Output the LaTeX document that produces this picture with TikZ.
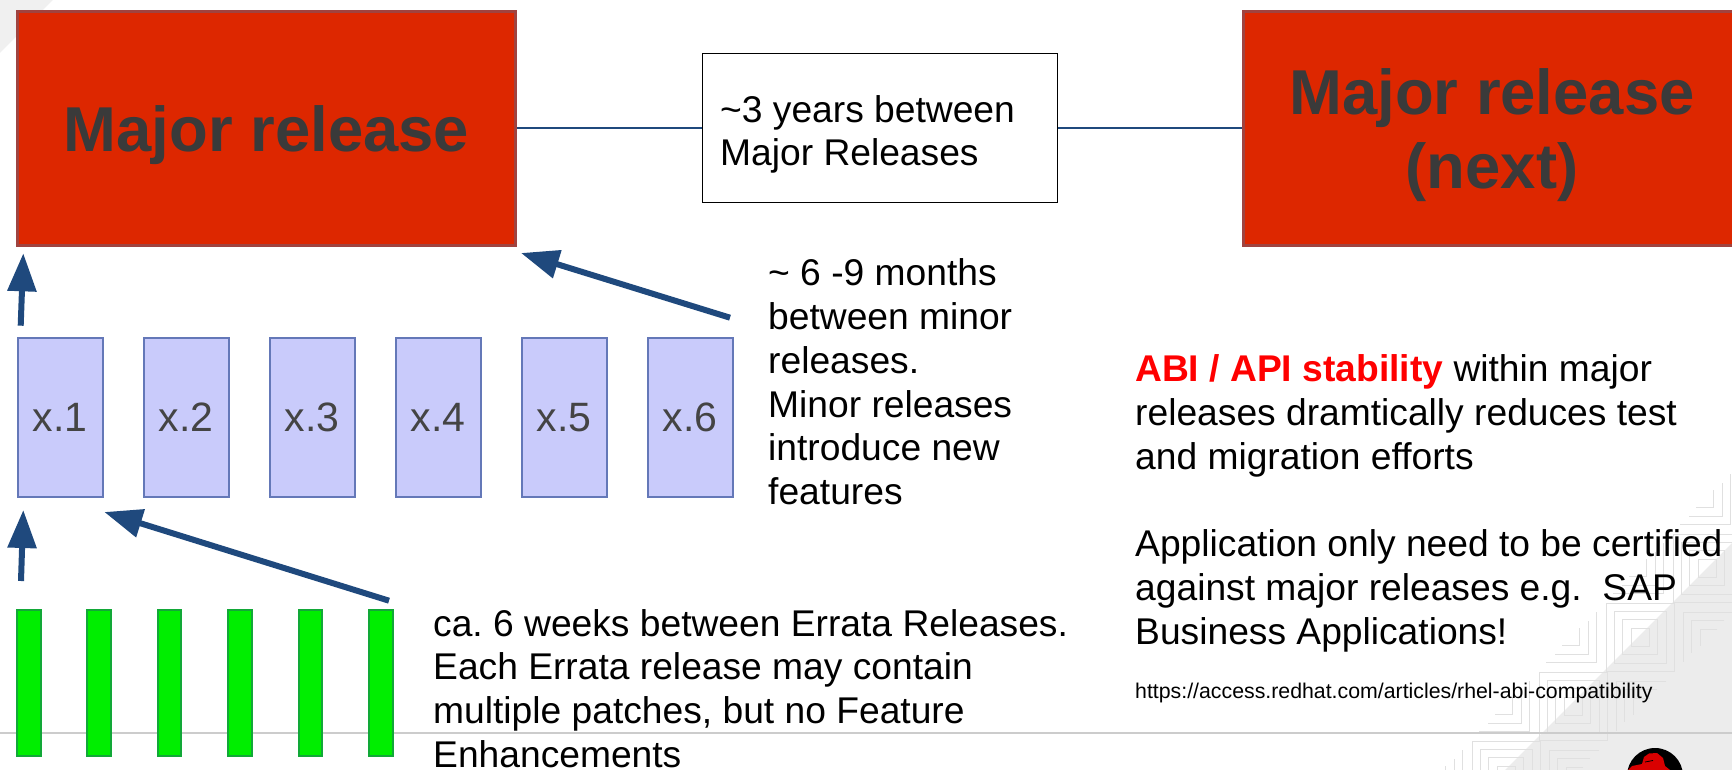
\documentclass[tikz,border=0pt]{standalone}
\usepackage{fontspec}
\setmainfont{Liberation Sans}
\usetikzlibrary{positioning, arrows.meta}

\definecolor{majorred}{HTML}{DD2700}
\definecolor{majorline}{HTML}{A0433F}
\definecolor{majortext}{HTML}{3A3A3A}
\definecolor{minorfill}{HTML}{C9CBFB}
\definecolor{minorline}{HTML}{6478B8}
\definecolor{minortext}{HTML}{444444}
\definecolor{erratafill}{HTML}{00EE00}
\definecolor{errataline}{HTML}{12A838}
\definecolor{linkblue}{HTML}{1F497D}
\definecolor{backgray}{HTML}{ECECEC}
\definecolor{patterngray}{HTML}{E0E0E0}

\tikzset{
  majorbox/.style={draw=majorline, line width=3pt, fill=majorred, text=majortext,
    minimum width=498pt, minimum height=234pt, align=center, text depth=0pt,
    font=\fontsize{63.4}{74}\selectfont\bfseries},
  minorbox/.style={draw=minorline, line width=2pt, fill=minorfill, text=minortext,
    minimum width=85pt, minimum height=159pt, font=\fontsize{41}{48}\selectfont},
  erratabar/.style={draw=errataline, line width=2pt, fill=erratafill,
    minimum width=23.5pt, minimum height=146pt, inner sep=0pt},
  notetext/.style={inner sep=0pt, anchor=north west, align=left,
    font=\fontsize{37.2}{43.8}\selectfont\frenchspacing},
  link/.style={draw=linkblue, line width=2pt},
  pusharrow/.style={draw=linkblue, line width=6pt, -{Triangle[length=38pt,width=28pt]}},
  patternline/.style={draw=patterngray, line width=1pt},
}

\begin{document}
\begin{tikzpicture}[x=1pt, y=-1pt, on grid]
            \useasboundingbox (0,0) rectangle (1732,770);
            \clip (0,0) rectangle (1732,770);

            % background
            \fill[backgray!80] (0,0) -- (53,0) -- (0,53) -- cycle;
            \fill[backgray] (1505,770) -- (1732,543) -- (1732,770) -- cycle;
            \foreach \k in {-2,...,2} {
              \begin{scope}[shift={(1640+67*\k,637-69*\k)}]
                \foreach \a/\b/\len in {61/8/17, 52/17/33, 44/25/50} {
                  \draw[patternline] (-\a-\len,\b) -- (-\a,\b) -- (-\a,\b-\len);
                  \draw[patternline] (\a-1+\len,-\b) -- (\a-1,-\b) -- (\a-1,-\b+\len);
                }
                \ifnum\k<2
                \foreach \r in {9,17.3,26,34} {
                  \draw[patternline] (-\r,-\r) rectangle (\r,\r);
                }
                \fi
              \end{scope}
            }
            \draw[line width=1.2pt, draw=black!20] (0,733) -- (1732,733);

            % logo
            \fill[black] (1655,776) circle (28);
            \fill[red!85!black] (1628,770) -- (1632,766) -- (1642,764) -- (1644,757)
              -- (1649,753.5) -- (1657,753) -- (1663,758) -- (1665,766) -- (1670,770) -- cycle;
            \draw[black, line width=0.8pt] (1645,762) -- (1653,760.5);

            % releases
            \node[majorbox, text height=46pt] (major) at (266.5,128.5) {Major release};
            \node[majorbox] (next) at (1492,128.5) {Major release\\(next)};
            \node[draw, line width=1.5pt, minimum width=355pt, minimum height=149pt,
              inner sep=0pt] (gap) at (880,128) {};
            \node[notetext] (gaptext) at (720,95) {\textasciitilde3 years between\\Major Releases};

            \draw[link] (major.east |- gap.west) -- (gap.west);
            \draw[link] (gap.east) -- (next.west |- gap.east);

            % minor releases
            \node[minorbox] (m1) at (60,417.5) {x.1};
            \node[minorbox, right=126pt of m1] (m2) {x.2};
            \node[minorbox, right=126pt of m2] (m3) {x.3};
            \node[minorbox, right=126pt of m3] (m4) {x.4};
            \node[minorbox, right=126pt of m4] (m5) {x.5};
            \node[minorbox, right=126pt of m5] (m6) {x.6};

            % errata releases
            \node[erratabar] (e1) at (28.8,683) {};
            \node[erratabar, right=70.4pt of e1] (e2) {};
            \node[erratabar, right=70.4pt of e2] (e3) {};
            \node[erratabar, right=70.4pt of e3] (e4) {};
            \node[erratabar, right=70.4pt of e4] (e5) {};
            \node[erratabar, right=70.4pt of e5] (e6) {};

            % notes
            \node[notetext] (minornote) at (768,258.5) {\textasciitilde{} 6 -9 months\\between minor\\releases.\\Minor releases\\introduce new\\features};
            \node[notetext] (erratanote) at (433,609) {ca. 6 weeks between Errata Releases.\\Each Errata release may contain\\multiple patches, but no Feature\\Enhancements};
            \node[notetext] (abinote) at (1135,354.5) {\textcolor{red}{\textbf{ABI / API stability}} within major\\releases dramtically reduces test\\and migration efforts\\[43.8pt]Application only need to be certified\\against major releases e.g.\ \ SAP\\Business Applications!};
            \node[notetext, font=\fontsize{21.3}{25}\selectfont] (abilink) at (1135,683) {https://access.redhat.com/articles/rhel-abi-compatibility};

            % arrows
            \coordinate (majortip) at (23.3,253.3);
            \coordinate (minortail) at (20.7,325.7);
            \coordinate (minortip) at (23.3,510);
            \coordinate (erratatail) at (21,581);
            \coordinate (notetip) at (521,253);
            \coordinate (notetail) at (730,317.7);
            \coordinate (barstip) at (104.3,512);
            \coordinate (barstail) at (389,600.7);
            \draw[pusharrow] (minortail) -- (majortip);
            \draw[pusharrow] (erratatail) -- (minortip);
            \draw[pusharrow] (notetail) -- (notetip);
            \draw[pusharrow] (barstail) -- (barstip);
        \end{tikzpicture}
\end{document}
